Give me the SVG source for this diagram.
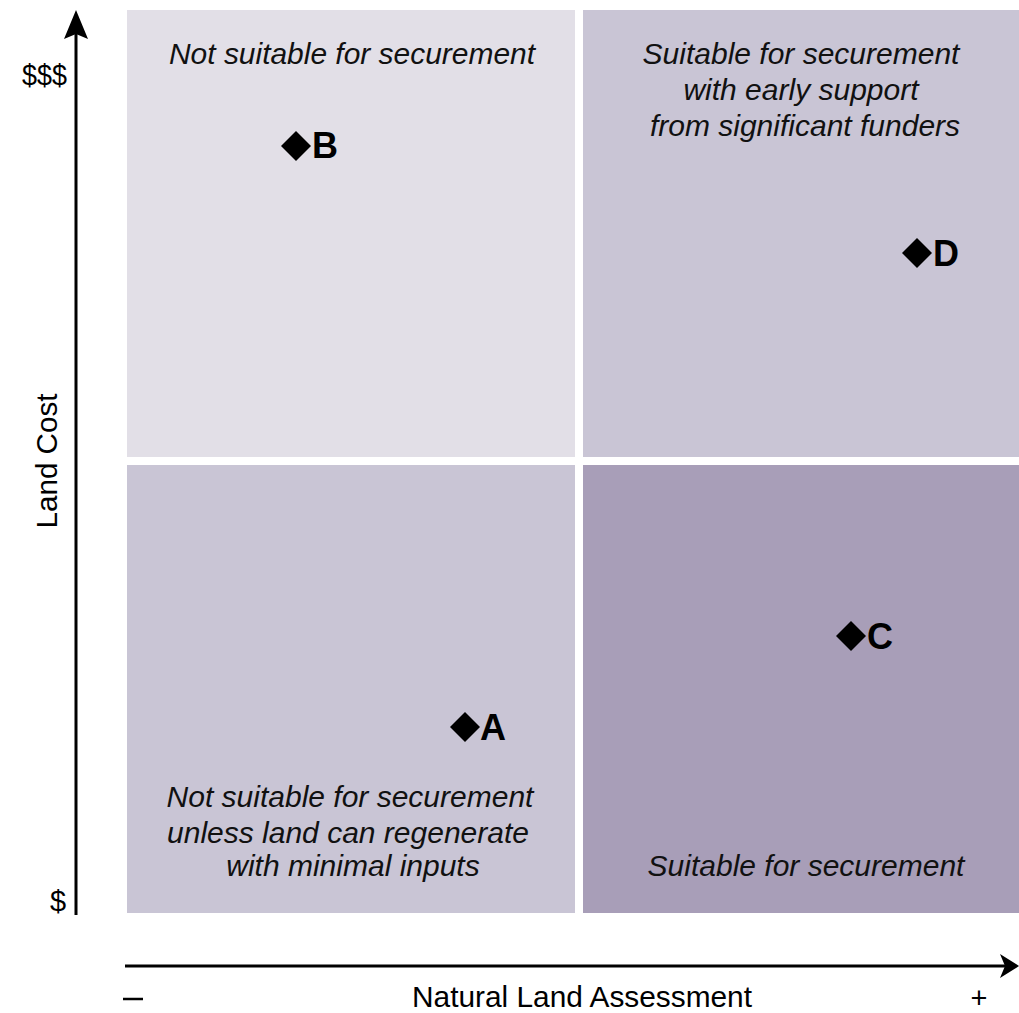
<svg xmlns="http://www.w3.org/2000/svg" width="1019" height="1013" viewBox="0 0 1019 1013">
<style>
.q{font-family:"Liberation Sans",Arial,sans-serif;font-style:italic;font-size:30px;fill:#111;text-anchor:middle}
.lbl{font-family:"Liberation Sans",Arial,sans-serif;font-weight:bold;font-size:36px;fill:#000}
.ax{font-family:"Liberation Sans",Arial,sans-serif;font-size:29px;fill:#000}
.dia{fill:#000}
.axis{stroke:#000;stroke-width:3;fill:none}
</style>
<rect width="1019" height="1013" fill="#fff"/>
<g id="quadrants">
<rect id="q-tl" x="127" y="10" width="448" height="447" fill="#e2dfe7"/>
<rect id="q-tr" x="583" y="10" width="436" height="447" fill="#c9c5d5"/>
<rect id="q-bl" x="127" y="465" width="448" height="448" fill="#c9c5d5"/>
<rect id="q-br" x="583" y="465" width="436" height="448" fill="#a89eb8"/>
</g>
<g id="quadrant-labels">
<text class="q" x="352" y="64" textLength="366" lengthAdjust="spacingAndGlyphs">Not suitable for securement</text>
<text class="q" x="801" y="64">Suitable for securement</text>
<text class="q" x="801" y="100">with early support</text>
<text class="q" x="805" y="136">from significant funders</text>
<text class="q" x="350" y="807">Not suitable for securement</text>
<text class="q" x="348" y="843">unless land can regenerate</text>
<text class="q" x="353" y="876">with minimal inputs</text>
<text class="q" x="806" y="876">Suitable for securement</text>
</g>
<g id="point-B"><path class="dia" d="M296,131 L311,146 L296,161 L281,146 Z"/><text class="lbl" x="312" y="158">B</text></g>
<g id="point-D"><path class="dia" d="M917,238 L932,253 L917,268 L902,253 Z"/><text class="lbl" x="933" y="266">D</text></g>
<g id="point-C"><path class="dia" d="M851,621 L866,636 L851,651 L836,636 Z"/><text class="lbl" x="867" y="649">C</text></g>
<g id="point-A"><path class="dia" d="M465,712 L480,727 L465,742 L450,727 Z"/><text class="lbl" x="480" y="740">A</text></g>
<g id="connectors">
<line class="axis" x1="76" y1="915" x2="76" y2="30"/>
<path d="M76,10 L88,39 L76,34 L64,39 Z" fill="#000"/>
<line class="axis" x1="125" y1="966" x2="1008" y2="966"/>
<path d="M1019,966 L1000,954 L1005,966 L1000,978 Z" fill="#000"/>
</g>
<g id="axis-labels">
<text class="ax" x="22" y="85" font-size="31" textLength="45" lengthAdjust="spacingAndGlyphs">$$$</text>
<text class="ax" x="50" y="911" font-size="31">$</text>
<text class="ax" x="0" y="0" text-anchor="middle" transform="translate(57,461) rotate(-90)" textLength="135" lengthAdjust="spacingAndGlyphs">Land Cost</text>
<text class="ax" x="582" y="1007" text-anchor="middle" textLength="340" lengthAdjust="spacingAndGlyphs">Natural Land Assessment</text>
<line x1="123" y1="999" x2="143" y2="999" stroke="#000" stroke-width="2.5"/>
<text class="ax" x="979" y="1008" font-size="33" text-anchor="middle">+</text>
</g>
</svg>
